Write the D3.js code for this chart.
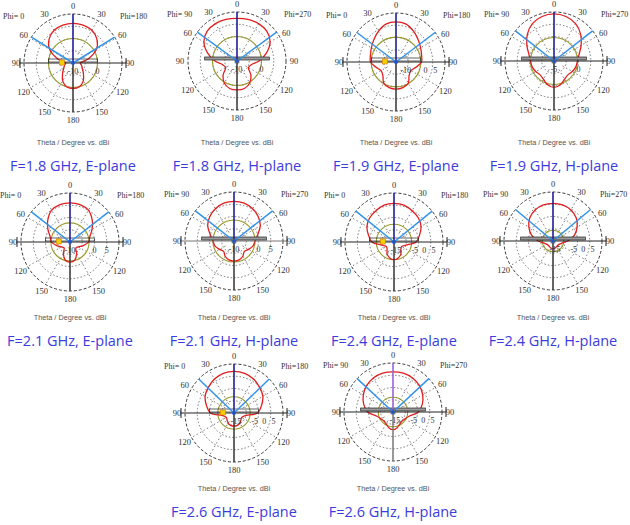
<!DOCTYPE html>
<meta charset="utf-8">
<style>
body { margin: 0; background: #fff; }
.ang { font: 8.5px "Liberation Serif", serif; fill: #333; }
.phi { font: 8px "Liberation Serif", serif; fill: #333; }
.tick { font: 8px "Liberation Serif", serif; fill: #333; }
.theta { font: 7.3px "Liberation Sans", sans-serif; fill: #555; }
.cap { font: 14.5px "Open Sans", sans-serif; fill: #3c3cdc; }
</style>
<body>
<script src="https://d3js.org/d3.v7.min.js"></script>
<script>

// theta angles (deg) for one half of each cut, phi=0/90 on the left, phi=180/270 on the right
const theta = [0, 15, 30, 45, 60, 75, 90, 105, 120, 135, 150, 165, 180];

// gain in dBi
const g18E = [6.2, 6.0, 5.4, 3.8, 1.0, -3.6, -7.0, -6.4, -5.6, -4.0, -1.6, 0.0, 0.4];
const g18H = [7.4, 7.6, 7.6, 7.2, 5.6, 2.4, -1.0, -4.0, -4.6, -2.0, 0.4, 1.6, 1.8];
const g19E = [5.5, 5.0, 3.0, 1.0, -0.5, -1.5, -2.0, -4.5, -6.2, -5.5, -2.5, -1.5, -1.2];
const g19H = [4.6, 4.4, 3.8, 2.7, 1.4, 0.3, -0.2, -0.4, -0.7, -1.0, -0.7, 0.0, 0.4];
const g21E = [6.0, 5.8, 5.0, 2.8, 0.4, -1.6, -2.4, -4.4, -6.0, -6.6, -4.6, -2.4, -1.8];
const g21H = [6.2, 6.0, 5.2, 4.0, 2.4, 0.0, -1.4, -2.0, -3.2, -4.0, -2.8, -2.0, -1.8];
const g24E = [4.5, 4.3, 3.2, 2.2, 0.6, -2.0, -4.3, -9.5, -11.3, -10.8, -8.7, -7.2, -6.6];
const g24H = [4.0, 3.8, 3.0, 1.4, -1.2, -4.3, -8.2, -11.3, -12.4, -12.6, -12.4, -12.1, -11.8];
const g26E = [6.1, 5.8, 4.8, 3.2, 1.7, -0.9, -3.5, -10.3, -11.3, -10.8, -9.8, -9.2, -9.0];
const g26H = [5.3, 5.3, 4.8, 3.8, 2.2, 0.1, -2.5, -7.2, -8.7, -9.2, -8.7, -7.4, -6.6];

// reference (green) circle level, dBi
const greenLvl = [0, 0, -2.3, -0.2, -2.2, -1.4, -6.6, -10.3, -7.4, -8.2];
// 3 dB beam markers, deg from boresight
const beamDeg = [58, 54, 53, 52, 52, 52, 51, 50, 46, 47];
// radial axis ranges (dBi) and ring labels
const rDomain = [[-10, 10], [-10, 10], [-15, 10], [-5, 5], [-10, 10], [-10, 10], [-16, 10], [-16, 10], [-16, 10], [-16, 10]];
const rTicks = [[-10, 0], [-10, 0], [-10, 0, 5], [-5, 0], [-10, 0, 5], [-10, 0, 5], [-15, -5, 0, 5], [-15, -5, 0, 5], [-15, -5, 0, 5], [-15, -5, 0, 5]];
const captions = ["F=1.8 GHz, E-plane", "F=1.8 GHz, H-plane", "F=1.9 GHz, E-plane", "F=1.9 GHz, H-plane",
  "F=2.1 GHz, E-plane", "F=2.1 GHz, H-plane", "F=2.4 GHz, E-plane", "F=2.4 GHz, H-plane",
  "F=2.6 GHz, E-plane", "F=2.6 GHz, H-plane"];
const gains = [g18E, g18H, g19E, g19H, g21E, g21H, g24E, g24H, g26E, g26H];
const angLabels = [0, 30, 60, 90, 120, 150, 180];

// layout of the ten plots
const centers = [[73, 63], [237, 61], [396, 62], [554, 61],
  [70, 242], [234, 241], [394, 242], [553, 241],
  [234, 413], [393, 412]];
const rowText = { 63: [145, 171], 61: [145, 171], 62: [145, 171], 242: [320, 346], 241: [320, 346], 413: [491, 517], 412: [491, 517] };
const R = 49;

const svg = d3.select("body").append("svg")
  .attr("width", 630).attr("height", 525);
svg.append("rect").attr("width", 630).attr("height", 525).attr("fill", "#fff");

const rad = d => d * Math.PI / 180;

centers.forEach((c, i) => {
  const ePlane = i % 2 === 0;
  const r = d3.scaleLinear().domain(rDomain[i]).range([0, R]).clamp(true);
  const g = svg.append("g").attr("transform", `translate(${c[0]},${c[1]})`);

  // grid rings
  [0.25, 0.5, 0.75].forEach(f => {
    g.append("circle").attr("r", f * R).attr("fill", "none")
      .attr("stroke", "#555").attr("stroke-width", 0.8).attr("stroke-dasharray", "1.5,2");
  });
  g.append("circle").attr("r", R).attr("fill", "none")
    .attr("stroke", "#222").attr("stroke-width", 0.9).attr("stroke-dasharray", "3,2");

  // radial spokes
  [30, 60, 120, 150, 210, 240, 300, 330].forEach(a => {
    const s = Math.sin(rad(a)), co = -Math.cos(rad(a));
    g.append("line")
      .attr("x1", 0.2 * R * s).attr("y1", 0.2 * R * co)
      .attr("x2", R * s).attr("y2", R * co)
      .attr("stroke", "#555").attr("stroke-width", 0.8).attr("stroke-dasharray", "1.5,2.5");
  });

  // angle labels
  angLabels.forEach(a => {
    [1, -1].forEach(side => {
      if (side === -1 && (a === 0 || a === 180)) return;
      const rr = R + 8;
      g.append("text").attr("class", "ang")
        .attr("x", side * rr * Math.sin(rad(a)))
        .attr("y", -rr * Math.cos(rad(a)) + 3)
        .attr("text-anchor", "middle")
        .text(a);
    });
  });

  // phi labels
  g.append("text").attr("class", "phi").attr("x", -70).attr("y", -R + 5)
    .text(ePlane ? "Phi=  0" : "Phi= 90");
  g.append("text").attr("class", "phi").attr("x", 47).attr("y", -R + 5)
    .text(ePlane ? "Phi=180" : "Phi=270");

  // reference circle
  g.append("circle").attr("r", r(greenLvl[i])).attr("fill", "none")
    .attr("stroke", "#9a9a2c").attr("stroke-width", 1.1);

  // pattern: right half (phi=180/270) then left half (phi=0/90)
  const pts = theta.map((t, k) => [rad(t), r(gains[i][k])]);
  for (let k = theta.length - 2; k > 0; k--) pts.push([2 * Math.PI - rad(theta[k]), r(gains[i][k])]);
  const line = d3.lineRadial().curve(d3.curveCatmullRomClosed.alpha(0.5));
  g.append("path").attr("d", line(pts)).attr("fill", "none")
    .attr("stroke", "#e01e1e").attr("stroke-width", 1.3);

  // horizontal axis with end caps
  if (i !== 1) {
    g.append("line").attr("x1", -R - 4).attr("x2", R + 4).attr("y1", 0).attr("y2", 0)
      .attr("stroke", i === 5 ? "#777" : "#222").attr("stroke-width", 1);
    [-R - 4, R + 4].forEach(x => g.append("line").attr("x1", x).attr("x2", x)
      .attr("y1", -5).attr("y2", 5).attr("stroke", "#222").attr("stroke-width", 1));
  }
  // main bar
  const bw = ePlane ? 0.5 : 0.66;
  g.append("rect").attr("x", -bw * R).attr("y", -4).attr("width", 2 * bw * R).attr("height", 3)
    .attr("fill", ePlane ? "none" : "#9a9a9a").attr("stroke", "#222").attr("stroke-width", 0.7);

  // vertical axis
  g.append("line").attr("x1", 0).attr("x2", 0).attr("y1", 0).attr("y2", -R)
    .attr("stroke", i === 9 ? "#9b62d6" : "#1f1f9a").attr("stroke-width", 1.6);
  g.append("line").attr("x1", 0).attr("x2", 0).attr("y1", 0).attr("y2", R)
    .attr("stroke", i === 9 ? "#777" : "#333").attr("stroke-width", 1.5);

  // beam markers
  [-1, 1].forEach(side => {
    g.append("line").attr("x1", 0).attr("y1", 0)
      .attr("x2", side * R * Math.sin(rad(beamDeg[i])))
      .attr("y2", -R * Math.cos(rad(beamDeg[i])))
      .attr("stroke", "#3393e8").attr("stroke-width", 1.5);
  });

  // ring labels
  rTicks[i].forEach(v => {
    g.append("text").attr("class", "tick").attr("x", r(v)).attr("y", 11)
      .attr("text-anchor", "middle").text(v);
  });

  // markers
  if (ePlane) {
    g.append("rect").attr("x", -0.28 * R).attr("y", -3).attr("width", 5).attr("height", 5)
      .attr("fill", "#f4d000").attr("stroke", "#e07a00").attr("stroke-width", 0.6);
  } else {
    g.append("rect").attr("x", -2).attr("y", -2).attr("width", 4).attr("height", 4)
      .attr("fill", "#c8d800").attr("stroke", "#2a2a7a").attr("stroke-width", 0.5);
  }
  g.append("circle").attr("r", 2).attr("fill", "#2255cc");

  // texts under each plot
  const ty = rowText[c[1]];
  svg.append("text").attr("class", "theta").attr("x", c[0]).attr("y", ty[0])
    .attr("text-anchor", "middle").text("Theta / Degree vs. dBi");
  svg.append("text").attr("class", "cap").attr("x", c[0]).attr("y", ty[1])
    .attr("text-anchor", "middle").text(captions[i]);
});

</script>
</body>
